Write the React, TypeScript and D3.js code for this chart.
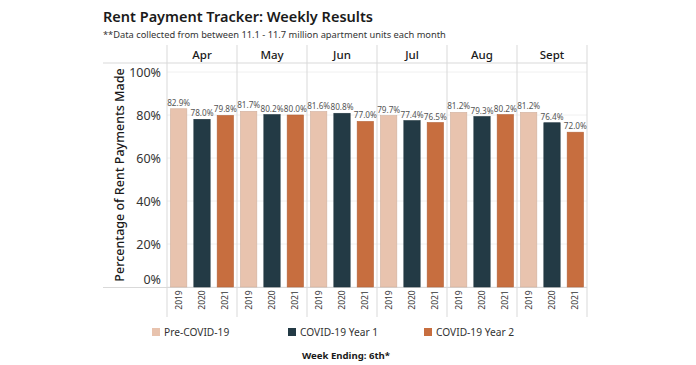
import React from "react";
import * as d3 from "d3";

const months = ["Apr", "May", "Jun", "Jul", "Aug", "Sept"];
const years = ["2019", "2020", "2021"];
const seriesNames = ["Pre-COVID-19", "COVID-19 Year 1", "COVID-19 Year 2"];
const colors = ["#E8C3AE", "#233A45", "#C76E3F"];
const preCovid = [82.9, 81.7, 81.6, 79.7, 81.2, 81.2];
const covidY1 = [78.0, 80.2, 80.8, 77.4, 79.3, 76.4];
const covidY2 = [79.8, 80.0, 77.0, 76.5, 80.2, 72.0];
const yTicks = [0, 20, 40, 60, 80, 100];

const W = 696;
const H = 365;
const FONT = "'Noto Sans', sans-serif";

export default function App() {
  const series = [preCovid, covidY1, covidY2];
  const x0 = 167;
  const x1 = 587;
  const headerTop = 45;
  const headerBottom = 63;
  const plotBottom = 287;
  const dividerBottom = 317;
  const axisLeft = 103;

  const xMonth = d3.scaleBand<string>().domain(months).range([x0, x1]).padding(0);
  const xYear = d3
    .scaleBand<string>()
    .domain(years)
    .range([0, xMonth.bandwidth()])
    .paddingInner(0.3)
    .paddingOuter(0.15);
  const y = d3.scaleLinear().domain([0, 100]).range([plotBottom, 72]);

  const legendX = [152, 288, 424];

  return (
    <svg width={W} height={H} style={{ position: "absolute", left: 0, top: 0, background: "#fff" }} fontFamily={FONT}>
      <rect x={0} y={0} width={W} height={H} fill="#fff" />
      <text x={103} y={22} fontSize={14.5} fontWeight={600} fill="#1a1a1a">
        Rent Payment Tracker: Weekly Results
      </text>
      <text x={103} y={38} fontSize={9.3} fill="#333">
        **Data collected from between 11.1 - 11.7 million apartment units each month
      </text>

      {/* gridlines */}
      {yTicks.map((t) => (
        <line key={"g" + t} x1={x0} x2={x1} y1={y(t)} y2={y(t)} stroke="#f0f0f0" strokeWidth={1} />
      ))}

      {/* header line and baseline */}
      <line x1={axisLeft} x2={x1} y1={headerBottom} y2={headerBottom} stroke="#d9d9d9" />
      <line x1={axisLeft} x2={x1} y1={plotBottom + 0.5} y2={plotBottom + 0.5} stroke="#d9d9d9" />

      {/* dividers */}
      {months.map((m) => (
        <line
          key={"d" + m}
          x1={xMonth(m)!}
          x2={xMonth(m)!}
          y1={headerTop}
          y2={dividerBottom}
          stroke="#d9d9d9"
        />
      ))}
      <line x1={x1} x2={x1} y1={headerTop} y2={dividerBottom} stroke="#d9d9d9" />

      {/* month headers */}
      {months.map((m) => (
        <text
          key={"h" + m}
          x={xMonth(m)! + xMonth.bandwidth() / 2}
          y={59}
          textAnchor="middle"
          fontSize={11.5}
          fontWeight={500}
          fill="#1a1a1a"
        >
          {m}
        </text>
      ))}

      {/* y axis labels */}
      {yTicks.map((t) => (
        <text
          key={"yl" + t}
          x={161}
          y={t === 0 ? y(t) - 3 : y(t) + 4.5}
          textAnchor="end"
          fontSize={12.5}
          fill="#333"
        >
          {t + "%"}
        </text>
      ))}
      <text
        transform={`translate(124,175) rotate(-90)`}
        textAnchor="middle"
        fontSize={12.5}
        fontWeight={500}
        fill="#1a1a1a"
      >
        Percentage of Rent Payments Made
      </text>

      {/* bars */}
      {months.map((m, mi) => (
        <g key={"b" + m} transform={`translate(${xMonth(m)},0)`}>
          {years.map((yr, si) => {
            const v = series[si][mi];
            const bx = xYear(yr)!;
            const bw = xYear.bandwidth();
            return (
              <g key={yr}>
                <rect
                  x={bx}
                  y={y(v)}
                  width={bw}
                  height={plotBottom - y(v)}
                  fill={colors[si]}
                  stroke={d3.color(colors[si])!.darker(0.3).toString()}
                  strokeWidth={0.6}
                />
                <text
                  x={bx + bw / 2}
                  y={y(v) - 3}
                  textAnchor="middle"
                  fontSize={8.2}
                  fill="#555"
                >
                  {v.toFixed(1) + "%"}
                </text>
                <text
                  transform={`translate(${bx + bw / 2 + 3},300) rotate(-90)`}
                  textAnchor="middle"
                  fontSize={8.5}
                  fill="#333"
                >
                  {yr}
                </text>
              </g>
            );
          })}
        </g>
      ))}

      {/* legend */}
      {seriesNames.map((s, i) => (
        <g key={"lg" + s} transform={`translate(${legendX[i]},328)`}>
          <rect x={0} y={0} width={8} height={8} fill={colors[i]} />
          <text x={12} y={8} fontSize={10.2} fill="#333">
            {s}
          </text>
        </g>
      ))}

      <text x={346} y={359} textAnchor="middle" fontSize={9.6} fontWeight={700} fill="#1a1a1a">
        Week Ending: 6th*
      </text>
    </svg>
  );
}
